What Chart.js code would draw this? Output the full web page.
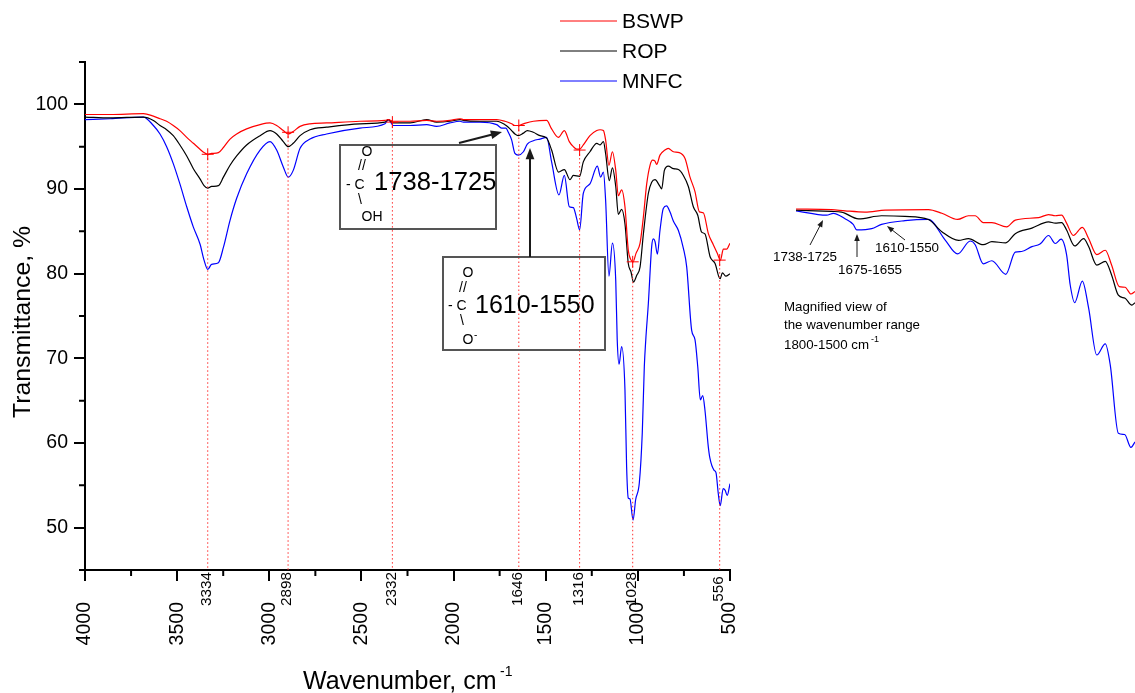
<!DOCTYPE html>
<html>
<head>
<meta charset="utf-8">
<title>FTIR spectra</title>
<script src="https://cdn.jsdelivr.net/npm/chart.js@4"></script>
<style>
  html, body { margin: 0; background: #fff; }
  canvas { position: absolute; }
  #mainChart { left: 0; top: 0; }
  #insetChart { left: 760px; top: 195px; }
</style>
</head>
<body>
<canvas id="mainChart" width="1135" height="693"></canvas>
<canvas id="insetChart" width="375" height="260"></canvas>
<script>
const FONT = '"Liberation Sans"';

const xTicks = [4000, 3500, 3000, 2500, 2000, 1500, 1000, 500];
const xMinorTicks = [3750, 3250, 2750, 2250, 1750, 1250, 750];
const yTicks = [50, 60, 70, 80, 90, 100];
const yMinorTicks = [45, 55, 65, 75, 85, 95, 105];

const seriesNames = ['BSWP', 'ROP', 'MNFC'];
const seriesColors = ['#ff0000', '#000000', '#0000ff'];

const bswpWn = [4000, 3864, 3683, 3629, 3593, 3557, 3521, 3485, 3448, 3412, 3376, 3354, 3334, 3313, 3276, 3249, 3213, 3177, 3123, 3050, 2996, 2960, 2924, 2897, 2870, 2833, 2779, 2689, 2508, 2372, 2354, 2327, 2236, 2146, 2092, 2020, 1965,
  1947, 1857, 1766, 1721, 1685, 1667, 1649, 1621, 1567, 1495, 1468, 1431, 1399, 1372, 1350, 1332, 1316, 1296, 1260, 1223, 1205, 1187, 1175, 1157, 1138, 1120, 1106, 1088, 1070, 1052, 1037, 1026, 1010, 988, 970, 952, 934, 920, 907, 898, 880, 853, 835, 807, 775, 744, 717, 690, 666, 645, 617, 590, 569, 552, 536, 518, 500];
const bswpT = [98.8, 98.8, 98.9, 98.6, 98.3, 98.0, 97.5, 96.9, 96.1, 95.4, 94.7, 94.3, 94.1, 94.2, 94.3, 94.9, 95.9, 96.5, 97.1, 97.6, 97.8, 97.5, 96.9, 96.5, 96.8, 97.4, 97.7, 97.8, 98.0, 98.1, 98.2, 98.0, 98.0, 98.1, 98.0, 98.1, 98.3,
  98.2, 98.2, 98.2, 98.0, 97.7, 97.5, 97.5, 97.7, 98.0, 98.1, 97.1, 96.1, 96.9, 95.6, 95.0, 94.7, 94.7, 95.2, 96.3, 96.9, 97.0, 96.9, 95.8, 92.8, 94.4, 92.2, 89.2, 89.9, 87.9, 82.8, 81.6, 81.4, 82.4, 83.6, 86.7, 90.6, 92.8, 93.4, 93.3, 92.9, 94.0, 94.6, 94.8, 94.4, 94.3, 93.6, 91.4, 89.7, 87.3, 87.2, 84.7, 83.4, 82.4, 81.6, 82.9, 82.9, 83.6];

const ropWn = [4000, 3864, 3683, 3629, 3593, 3557, 3521, 3485, 3448, 3412, 3376, 3354, 3334, 3313, 3276, 3249, 3213, 3177, 3123, 3050, 2996, 2960, 2924, 2897, 2870, 2833, 2779, 2689, 2508, 2372, 2354, 2327, 2236, 2146, 2092, 2020, 1965,
  1947, 1857, 1766, 1721, 1703, 1685, 1667, 1649, 1621, 1600, 1567, 1531, 1495, 1468, 1431, 1399, 1368, 1350, 1316, 1296, 1260, 1223, 1205, 1187, 1175, 1155, 1138, 1120, 1106, 1088, 1070, 1052, 1037, 1024, 1006, 988, 970, 943, 925, 907, 880, 871, 856, 835, 807, 780, 753, 726, 699, 675, 654, 636, 608, 581, 554, 541, 523, 500];
const ropT = [98.5, 98.4, 98.5, 98.1, 97.5, 97.0, 96.3, 95.2, 93.9, 92.4, 91.2, 90.4, 90.1, 90.3, 90.4, 91.4, 92.8, 93.9, 95.2, 96.3, 96.9, 96.5, 95.6, 95.0, 95.4, 96.3, 97.0, 97.3, 97.7, 97.9, 98.2, 97.8, 97.8, 98.2, 97.9, 98.0, 98.2,
  98.1, 98.0, 98.0, 97.6, 97.3, 96.9, 96.5, 96.3, 96.6, 96.9, 96.7, 96.3, 96.0, 94.6, 92.0, 92.3, 91.1, 91.6, 91.5, 93.2, 94.4, 95.4, 95.2, 95.6, 94.2, 91.0, 92.5, 90.3, 87.0, 87.6, 85.9, 81.2, 80.2, 79.0, 79.8, 80.8, 84.7, 89.5, 90.8, 91.1, 90.3, 90.0, 92.2, 92.7, 92.4, 92.3, 91.6, 90.3, 87.9, 86.9, 84.9, 84.7, 82.0, 81.2, 79.4, 80.1, 79.7, 80.0];

const mnfcWn = [4000, 3864, 3683, 3629, 3593, 3557, 3521, 3485, 3448, 3412, 3376, 3354, 3334, 3313, 3276, 3249, 3213, 3177, 3123, 3050, 2996, 2960, 2924, 2897, 2870, 2833, 2779, 2689, 2508, 2372, 2354, 2327, 2236, 2146, 2092, 2020, 1965,
  1947, 1857, 1766, 1739, 1716, 1703, 1685, 1667, 1649, 1621, 1600, 1567, 1531, 1495, 1468, 1428, 1399, 1372, 1350, 1332, 1316, 1296, 1260, 1220, 1202, 1187, 1175, 1157, 1138, 1120, 1112, 1102, 1088, 1070, 1061, 1052, 1043, 1026, 1012, 992, 976, 965, 957, 943, 925, 916, 907, 894, 880, 862, 844, 826, 807, 780, 753, 735, 708, 690, 675, 661, 648, 636, 618, 609, 587, 576, 564, 553, 537, 526, 515, 500];
const mnfcT = [98.2, 98.3, 98.5, 97.5, 96.5, 95.0, 93.0, 90.6, 87.9, 85.5, 83.5, 81.6, 80.5, 81.1, 81.3, 83.1, 86.3, 88.9, 91.8, 94.6, 95.6, 94.6, 92.6, 91.4, 92.2, 94.8, 95.9, 96.5, 97.2, 97.7, 98.2, 97.5, 97.5, 97.6, 97.4, 97.8, 98.0,
  97.9, 97.9, 97.6, 97.2, 97.2, 96.7, 95.8, 94.2, 94.0, 94.4, 95.3, 95.7, 95.9, 96.1, 93.2, 89.3, 91.6, 87.9, 87.8, 86.5, 85.2, 89.5, 90.6, 92.7, 91.4, 92.0, 88.7, 79.7, 83.6, 79.2, 72.2, 69.3, 71.4, 66.3, 57.2, 53.5, 53.4, 50.9, 53.3, 55.3, 61.2, 69.0, 72.2, 76.5, 83.2, 84.1, 83.8, 82.3, 85.1, 87.7, 88.0, 87.3, 86.2, 85.1, 83.0, 80.8, 73.3, 72.2, 69.0, 65.1, 65.6, 63.9, 59.6, 58.2, 56.8, 56.5, 54.1, 52.6, 54.6, 54.4, 53.8, 55.2];

const peakWn = [3334, 2898, 2332, 1646, 1316, 1028, 556];
const peakT = [94.1, 96.7, 97.9, 97.5, 94.6, 81.4, 81.6];
const peakLabels = ['3334', '2898', '2332', '1646', '1316', '1028', '556'];

const insetBswpWn = [1800, 1721, 1691, 1647, 1602, 1506, 1476, 1441, 1417, 1402, 1384, 1365, 1332, 1313, 1261, 1239, 1224, 1210, 1199, 1184, 1164, 1150, 1132, 1113, 1099, 1082, 1069, 1056, 1047];
const insetBswpT = [98.0, 97.9, 97.7, 97.5, 97.8, 97.9, 97.3, 96.3, 96.9, 96.9, 95.8, 95.8, 95.1, 96.2, 96.6, 97.1, 96.9, 97.0, 95.7, 93.7, 95.0, 93.2, 90.6, 91.3, 88.9, 85.4, 85.3, 84.2, 84.6];
const insetRopWn = [1800, 1721, 1699, 1661, 1610, 1558, 1506, 1476, 1439, 1417, 1384, 1365, 1334, 1313, 1276, 1239, 1224, 1210, 1199, 1181, 1161, 1150, 1132, 1113, 1099, 1084, 1069, 1054, 1047];
const insetRopT = [97.8, 97.6, 97.5, 96.4, 96.9, 96.8, 96.3, 94.3, 92.9, 93.2, 92.2, 92.7, 92.5, 94.0, 94.9, 95.9, 95.7, 95.8, 94.6, 92.0, 93.2, 91.9, 88.9, 89.5, 87.3, 84.0, 83.5, 82.4, 82.8];
const insetMnfcWn = [1800, 1732, 1717, 1691, 1673, 1665, 1632, 1610, 1558, 1506, 1469, 1441, 1413, 1402, 1384, 1365, 1334, 1313, 1299, 1276, 1258, 1239, 1224, 1211, 1199, 1191, 1181, 1164, 1150, 1132, 1113, 1102, 1084, 1070, 1056, 1047];
const insetMnfcT = [97.7, 97.0, 97.3, 96.4, 95.5, 94.6, 94.8, 95.5, 96.1, 96.3, 93.0, 90.7, 92.8, 92.2, 89.1, 89.6, 87.4, 91.0, 91.1, 91.9, 92.3, 93.7, 92.4, 93.1, 90.6, 85.7, 82.8, 86.3, 81.9, 74.3, 76.1, 72.7, 61.6, 61.4, 59.3, 60.2];

function toPoints(xs, ys) {
  return xs.map((x, i) => ({ x, y: ys[i] }));
}

function text(ctx, str, x, y, size, opts = {}) {
  ctx.save();
  ctx.translate(x, y);
  if (opts.rotate) ctx.rotate(opts.rotate);
  ctx.font = size + 'px ' + FONT;
  ctx.fillStyle = opts.color || '#000';
  ctx.textAlign = opts.align || 'left';
  ctx.textBaseline = 'middle';
  ctx.fillText(str, 0, 0);
  ctx.restore();
}

function arrow(ctx, x1, y1, x2, y2, width, head) {
  const a = Math.atan2(y2 - y1, x2 - x1);
  ctx.save();
  ctx.strokeStyle = ctx.fillStyle = '#1a1a1a';
  ctx.lineWidth = width;
  ctx.beginPath();
  ctx.moveTo(x1, y1);
  ctx.lineTo(x2 - Math.cos(a) * head, y2 - Math.sin(a) * head);
  ctx.stroke();
  ctx.translate(x2, y2);
  ctx.rotate(a);
  ctx.beginPath();
  ctx.moveTo(0, 0);
  ctx.lineTo(-head * 1.4, -head * 0.55);
  ctx.lineTo(-head * 1.4, head * 0.55);
  ctx.closePath();
  ctx.fill();
  ctx.restore();
}

function box(ctx, x, y, w, h) {
  ctx.save();
  ctx.strokeStyle = '#555';
  ctx.lineWidth = 2;
  ctx.strokeRect(x, y, w, h);
  ctx.restore();
}

// minor ticks, peak labels, titles, legend and the two callout boxes
const decorations = {
  id: 'decorations',
  afterDraw(chart) {
    const ctx = chart.ctx;
    const xs = chart.scales.x, ys = chart.scales.y;

    ctx.save();
    ctx.strokeStyle = '#000';
    ctx.lineWidth = 2;
    ctx.beginPath();
    xMinorTicks.forEach(v => {
      const p = xs.getPixelForValue(v);
      ctx.moveTo(p, ys.bottom);
      ctx.lineTo(p, ys.bottom + 6);
    });
    yMinorTicks.forEach(v => {
      const p = ys.getPixelForValue(v);
      ctx.moveTo(xs.left, p);
      ctx.lineTo(xs.left - 6, p);
    });
    ctx.stroke();
    ctx.restore();

    peakLabels.forEach((label, i) => {
      text(ctx, label, xs.getPixelForValue(peakWn[i]) - 1, 589, 15.3, { rotate: -Math.PI / 2, align: 'center' });
    });

    text(ctx, 'Transmittance, %', 23, 322, 24.8, { rotate: -Math.PI / 2, align: 'center' });
    text(ctx, 'Wavenumber, cm', 303, 682, 25);
    text(ctx, '-1', 500, 672, 14);

    seriesNames.forEach((name, i) => {
      const y = 21 + i * 30;
      ctx.save();
      ctx.strokeStyle = seriesColors[i];
      ctx.lineWidth = 1;
      ctx.beginPath();
      ctx.moveTo(560, y);
      ctx.lineTo(617, y);
      ctx.stroke();
      ctx.restore();
      text(ctx, name, 622, y + 1, 21);
    });

    box(ctx, 340, 145, 156, 84);
    text(ctx, 'O', 367, 152, 14, { align: 'center' });
    text(ctx, '//', 362, 166, 14, { align: 'center' });
    text(ctx, '- C', 346, 185, 14);
    text(ctx, '\\', 360, 200, 14, { align: 'center' });
    text(ctx, 'OH', 372, 217, 14, { align: 'center' });
    text(ctx, '1738-1725', 374, 183, 25.6);
    arrow(ctx, 459, 143, 502, 132, 2, 8);

    box(ctx, 443, 257, 162, 93);
    text(ctx, 'O', 468, 273, 14, { align: 'center' });
    text(ctx, '//', 463, 288, 14, { align: 'center' });
    text(ctx, '- C', 448, 306, 14);
    text(ctx, '\\', 462, 321, 14, { align: 'center' });
    text(ctx, 'O', 468, 340, 14, { align: 'center' });
    text(ctx, '-', 474, 335, 10);
    text(ctx, '1610-1550', 475, 306, 25);
    arrow(ctx, 530, 257, 530, 148, 2, 8);
  }
};

const peakSets = peakWn.map((wn, i) => ({
  data: [{ x: wn, y: peakT[i] }, { x: wn, y: yMinorTicks[0] }],
  borderColor: '#ff3030',
  borderWidth: 1,
  borderDash: [1.5, 2.5],
  pointStyle: 'cross',
  pointRadius: [6, 0],
  pointBorderColor: '#ff0000',
  pointBorderWidth: 1
}));

const spectra = [bswpWn, ropWn, mnfcWn].map((wn, i) => ({
  label: seriesNames[i],
  data: toPoints(wn, [bswpT, ropT, mnfcT][i]),
  borderColor: seriesColors[i],
  borderWidth: 1.2,
  pointRadius: 0,
  cubicInterpolationMode: 'monotone'
}));

new Chart(document.getElementById('mainChart'), {
  type: 'line',
  data: { datasets: [...peakSets, ...spectra] },
  options: {
    responsive: false,
    animation: false,
    layout: { padding: { top: 62, right: 405, bottom: 0, left: 0 } },
    plugins: { legend: { display: false }, tooltip: { enabled: false } },
    scales: {
      x: {
        type: 'linear',
        reverse: true,
        min: 500,
        max: 4000,
        afterBuildTicks: s => { s.ticks = xTicks.map(value => ({ value })); },
        afterFit: s => { s.height = 123; s.paddingLeft = 0; s.paddingRight = 0; },
        border: { color: '#000', width: 2 },
        grid: { drawOnChartArea: false, color: '#000', lineWidth: 2, tickLength: 11 },
        ticks: {
          autoSkip: false,
          minRotation: 90,
          maxRotation: 90,
          padding: 21,
          color: '#000',
          font: { family: FONT, size: 19.5 },
          callback: v => String(v)
        }
      },
      y: {
        min: 45,
        max: 105,
        afterBuildTicks: s => { s.ticks = yTicks.map(value => ({ value })); },
        afterFit: s => { s.width = 85; s.paddingTop = 0; s.paddingBottom = 0; },
        border: { color: '#000', width: 2 },
        grid: { drawOnChartArea: false, color: '#000', lineWidth: 2, tickLength: 11 },
        ticks: {
          autoSkip: false,
          padding: 6,
          color: '#000',
          font: { family: FONT, size: 19.5 }
        }
      }
    }
  },
  plugins: [decorations]
});

// magnified view, its axes are hidden in the original
const insetLabels = {
  id: 'insetLabels',
  afterDraw(chart) {
    const ctx = chart.ctx;
    text(ctx, '1738-1725', 13, 62, 13.4);
    text(ctx, '1675-1655', 78, 75, 13.4);
    text(ctx, '1610-1550', 115, 53, 13.4);
    text(ctx, 'Magnified view of', 24, 112, 13.3);
    text(ctx, 'the wavenumber range', 24, 130, 13.3);
    text(ctx, '1800-1500 cm', 24, 150, 13.3);
    text(ctx, '-1', 111, 145, 9);
    arrow(ctx, 50, 50, 63, 25, 1, 5);
    arrow(ctx, 97, 62, 97, 39, 1, 5);
    arrow(ctx, 145, 45, 127, 31, 1, 5);
  }
};

const insetSets = [[insetBswpWn, insetBswpT], [insetRopWn, insetRopT], [insetMnfcWn, insetMnfcT]].map((s, i) => ({
  data: toPoints(s[0], s[1]),
  borderColor: seriesColors[i],
  borderWidth: 1.2,
  pointRadius: 0,
  cubicInterpolationMode: 'monotone'
}));

new Chart(document.getElementById('insetChart'), {
  type: 'line',
  data: { datasets: insetSets },
  options: {
    responsive: false,
    animation: false,
    plugins: { legend: { display: false }, tooltip: { enabled: false } },
    scales: {
      x: { type: 'linear', reverse: true, min: 1047, max: 1880, display: false },
      y: { min: 58.07, max: 100.27, display: false }
    }
  },
  plugins: [insetLabels]
});
</script>
</body>
</html>
